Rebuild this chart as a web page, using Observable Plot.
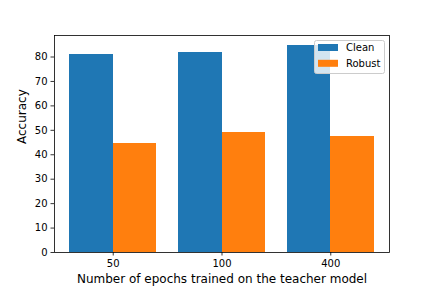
<!DOCTYPE html>
<html>
<head>
<meta charset="utf-8">
<script src="https://cdn.jsdelivr.net/npm/d3@7"></script>
<script src="https://cdn.jsdelivr.net/npm/@observablehq/plot@0.6"></script>
<style>
  html, body { margin: 0; padding: 0; background: #fff; }
  svg { display: block; }
</style>
</head>
<body>
<div id="chart"></div>
<script>
const epochs = ["50", "100", "400"];
const series = ["Clean", "Robust"];
const clean = [80.9, 81.8, 84.6];
const robust = [44.6, 49.1, 47.5];
const colors = ["#1f77b4", "#ff7f0e"];
const yTicks = [0, 10, 20, 30, 40, 50, 60, 70, 80];

const values = [clean, robust];
const barWidth = 0.4;
const rows = [];
epochs.forEach((e, i) => {
  series.forEach((s, j) => {
    const x1 = i - barWidth + j * barWidth;
    rows.push({epoch: e, series: s, value: values[j][i], x1, x2: x1 + barWidth});
  });
});

const W = 432, H = 288;
const mL = 54, mR = 43, mT = 35, mB = 36;

const plot = Plot.plot({
  width: W,
  height: H,
  marginLeft: mL,
  marginRight: mR,
  marginTop: mT,
  marginBottom: mB,
  style: {fontFamily: "DejaVu Sans", fontSize: "10px", background: "#fff", color: "#000"},
  x: {domain: [-0.54, 2.54]},
  y: {domain: [0, 88.8]},
  color: {domain: series, range: colors},
  marks: [
    Plot.rectY(rows, {x1: "x1", x2: "x2", y: "value", fill: "series", shapeRendering: "crispEdges"}),
    Plot.axisX({ticks: epochs.map((_, i) => i), tickFormat: i => epochs[i], tickSize: 3.5, tickPadding: 3.5, label: null, stroke: "#000", strokeWidth: 0.8, fill: "#000", fontSize: 10}),
    Plot.axisY({ticks: yTicks, tickSize: 3.5, tickPadding: 3.5, label: null, stroke: "#000", strokeWidth: 0.8, fill: "#000", fontSize: 10}),
    Plot.frame({stroke: "#000", strokeWidth: 0.8}),
    Plot.text(["Number of epochs trained on the teacher model"], {text: d => d, frameAnchor: "bottom", lineAnchor: "middle", dy: 27, fontSize: 12, fill: "#000"}),
    Plot.text(["Accuracy"], {text: d => d, frameAnchor: "left", lineAnchor: "middle", rotate: -90, dx: -32, fontSize: 12, fill: "#000"})
  ]
});

document.getElementById("chart").appendChild(plot);

// Legend (matplotlib-style, upper right, semi-transparent white box)
const NS = "http://www.w3.org/2000/svg";
const lx = 314, ly = 40, lw = 70, lh = 33;
const g = document.createElementNS(NS, "g");
g.setAttribute("font-family", "DejaVu Sans");
g.setAttribute("font-size", "10");
g.setAttribute("text-anchor", "start");
const box = document.createElementNS(NS, "rect");
box.setAttribute("x", lx + 0.5);
box.setAttribute("y", ly + 0.5);
box.setAttribute("width", lw);
box.setAttribute("height", lh);
box.setAttribute("rx", 2);
box.setAttribute("fill", "#ffffff");
box.setAttribute("fill-opacity", "0.8");
box.setAttribute("stroke", "#cccccc");
box.setAttribute("stroke-width", "1");
g.appendChild(box);
series.forEach((s, j) => {
  const cy = ly + 7.5 + j * 15.8;
  const r = document.createElementNS(NS, "rect");
  r.setAttribute("x", lx + 4); r.setAttribute("y", cy - 3.5);
  r.setAttribute("width", 20); r.setAttribute("height", 7);
  r.setAttribute("fill", colors[j]);
  g.appendChild(r);
  const t = document.createElementNS(NS, "text");
  t.setAttribute("x", lx + 32); t.setAttribute("y", cy); t.setAttribute("dy", "0.35em");
  t.setAttribute("fill", "#000");
  t.textContent = s;
  g.appendChild(t);
});
plot.appendChild(g);
</script>
</body>
</html>
